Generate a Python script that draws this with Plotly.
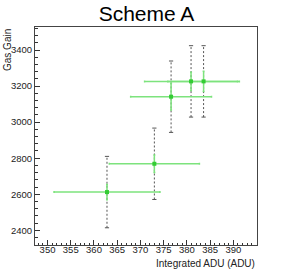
import plotly.graph_objects as go

# Data
adu = [362.8, 373.0, 376.6, 380.9, 383.6]
adu_err = [11.4, 9.7, 8.7, 10.0, 7.7]
gain = [2612, 2769, 3141, 3226, 3226]
gain_err = [42, 48, 74, 51, 56]
gain_sys = [198, 198, 198, 198, 198]

x_ticks = [350, 355, 360, 365, 370, 375, 380, 385, 390]
y_ticks = [2400, 2600, 2800, 3000, 3200, 3400]

FONT = "Liberation Sans, Arial, sans-serif"

fig = go.Figure()

# systematic (dashed gray) bars
sx, sy = [], []
for xv, yv, sv in zip(adu, gain, gain_sys):
    sx += [xv, xv, None]
    sy += [yv - sv, yv + sv, None]
fig.add_trace(go.Scatter(x=sx, y=sy, mode="lines",
                         line=dict(color="#555555", width=1, dash="2px,2px"),
                         hoverinfo="skip", showlegend=False))
capx, capy = [], []
for xv, yv, sv in zip(adu, gain, gain_sys):
    capx += [xv, xv]
    capy += [yv - sv, yv + sv]
fig.add_trace(go.Scatter(x=capx, y=capy, mode="markers",
                         marker=dict(symbol="line-ew", size=3,
                                     line=dict(color="#555555", width=1)),
                         hoverinfo="skip", showlegend=False))

# statistical (green) error bars
fig.add_trace(go.Scatter(
    x=adu, y=gain, mode="markers",
    marker=dict(symbol="square", size=4, color="#33cc33"),
    error_x=dict(type="data", array=adu_err, color="#7de37d", thickness=1.5, width=1),
    error_y=dict(type="data", array=gain_err, color="#7de37d", thickness=1.5, width=1),
    showlegend=False))

fig.update_layout(
    template="none",
    width=293, height=279,
    margin=dict(l=35, r=36, t=27, b=34, pad=0, autoexpand=False),
    paper_bgcolor="white", plot_bgcolor="white",
    font=dict(family=FONT, color="#222222", size=9),
    title=dict(text="Scheme A", x=0.5, xref="container", xanchor="center",
               y=1 - 14 / 279, yref="container", yanchor="middle",
               font=dict(size=21, color="black", family=FONT)),
    showlegend=False,
)

fig.update_xaxes(
    automargin=False,
    range=[347.3, 395.1], tickvals=x_ticks, ticktext=[str(v) for v in x_ticks],
    ticks="inside", ticklen=5, tickwidth=1, tickcolor="#333333",
    minor=dict(dtick=1, tick0=350, ticks="inside", ticklen=2.5, tickcolor="#333333"),
    showline=True, linecolor="#444444", linewidth=1, mirror=True,
    showgrid=False, zeroline=False, tickfont=dict(size=9.5),
    ticklabelstandoff=-4,
)
fig.update_yaxes(
    automargin=False,
    range=[2318.5, 3527.6], tickvals=y_ticks, ticktext=[str(v) for v in y_ticks],
    ticks="inside", ticklen=5, tickwidth=1, tickcolor="#333333",
    minor=dict(dtick=40, tick0=2400, ticks="inside", ticklen=2.5, tickcolor="#333333"),
    showline=True, linecolor="#444444", linewidth=1, mirror=True,
    showgrid=False, zeroline=False, tickfont=dict(size=9.5),
)

fig.add_annotation(text="Gas Gain", textangle=-90, xref="paper", yref="paper",
                   x=(7 - 35) / 222, y=1.0, xanchor="center", yanchor="top",
                   showarrow=False, font=dict(size=10, family=FONT, color="#222222"))
fig.add_annotation(text="Integrated ADU (ADU)", xref="paper", yref="paper",
                   x=1.0, y=(245 - 263) / 218, xanchor="right", yanchor="middle",
                   showarrow=False, font=dict(size=10, family=FONT, color="#222222"))

fig.write_html("out.html",
               config={"displayModeBar": False},
               post_script="document.body.style.margin='0';document.body.style.padding='0';")
